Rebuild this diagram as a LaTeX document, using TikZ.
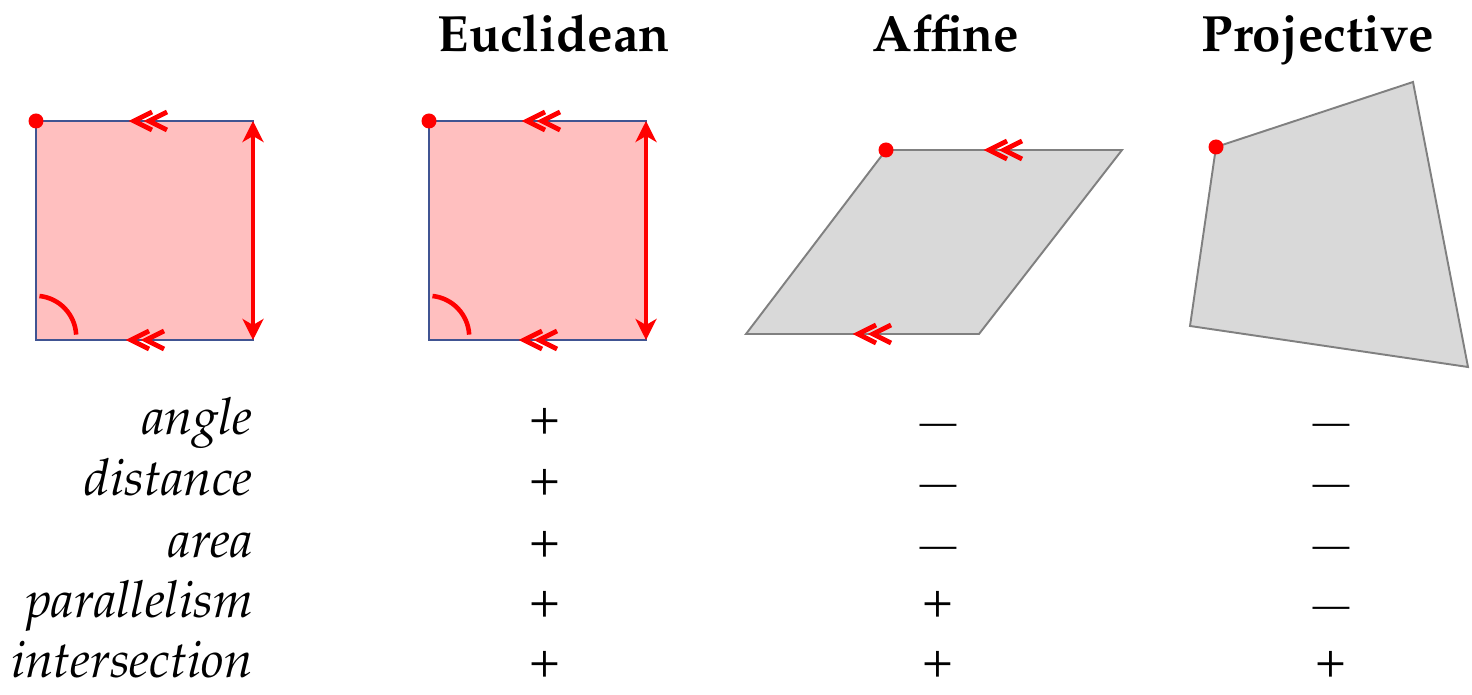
\documentclass[tikz,border=0pt]{standalone}
\usepackage[T1]{fontenc}
\usepackage{mathpazo}
\usetikzlibrary{arrows.meta}
\definecolor{rose}{RGB}{255,191,191}
\definecolor{slate}{RGB}{64,84,146}
\definecolor{signal}{RGB}{255,0,0}
\definecolor{stone}{RGB}{217,217,217}
\definecolor{ash}{RGB}{128,128,128}
\tikzset{
  >={Stealth[length=4.2mm,width=4.2mm,inset=1.2mm]},
  rigid/.style={fill=rose,draw=slate,line width=1.1pt},
  loose/.style={fill=stone,draw=ash,line width=1.1pt},
  measure/.style={<->,draw=signal,fill=signal,line width=2.2pt},
  angmark/.style={draw=signal,line width=2.6pt},
  heading/.style={font=\fontsize{29}{35}\selectfont\bfseries,anchor=base,inner sep=0pt},
  prop/.style={font=\fontsize{29}{35}\selectfont\itshape,anchor=base east,inner sep=0pt},
  yes/.style={node contents={+},font=\fontsize{29}{35}\selectfont,anchor=base,inner sep=0pt},
  no/.style={node contents={\textemdash},font=\fontsize{21}{25}\selectfont,anchor=base,inner sep=0pt},
  % little marks
  pics/par/.style={code={
    \draw[signal,line width=2.7pt] (0.36,0.18) -- (0,0) -- (0.36,-0.18)
      (0.66,0.18) -- (0.3,0) -- (0.66,-0.18);
  }},
  pics/vertex/.style={code={
    \fill[signal] (0,0) circle (0.15);
  }},
}
\begin{document}
\begin{tikzpicture}
    \useasboundingbox (0,0) rectangle (29.44,13.88);
    % squares
    \foreach \dx in {0,7.86}{
      \begin{scope}[xshift=\dx cm]
        \draw[rigid] (0.72,7.08) rectangle (5.06,11.46);
        \draw[angmark] (0.79,7.96) arc[start angle=84,end angle=3,radius=0.82];
        \draw[measure] (5.06,7.08) -- (5.06,11.46);
        \pic at (2.68,11.46) {par};
        \pic at (2.62,7.08) {par};
        \pic at (0.72,11.46) {vertex};
      \end{scope}
    }
    % parallelogram
    \draw[loose] (14.92,7.20) -- (19.58,7.20) -- (22.44,10.88) -- (17.72,10.88) -- cycle;
    \pic at (19.78,10.88) {par};
    \pic at (17.16,7.20) {par};
    \pic at (17.72,10.88) {vertex};
    % quadrilateral
    \draw[loose] (23.80,7.36) -- (29.36,6.54) -- (28.26,12.24) -- (24.32,10.94) -- cycle;
    \pic at (24.32,10.94) {vertex};
    % headings
    \node[heading] (euc) at (11.08,12.84) {Euclidean};
    \node[heading] (aff) at (18.92,12.84) {Affine};
    \node[heading] (proj) at (26.36,12.84) {Projective};
    % table
    \node[prop] (angle) at (5.06,5.18) {angle};
    \node[prop] (distance) at (5.06,3.96) {distance};
    \node[prop] (area) at (5.06,2.74) {area};
    \node[prop] (parallelism) at (5.06,1.54) {parallelism};
    \node[prop] (intersection) at (5.06,0.34) {intersection};
    \coordinate (ce) at (10.90,0);
    \coordinate (ca) at (18.76,0);
    \coordinate (cp) at (26.62,0);
    \foreach \r/\e/\a/\p in {angle/yes/no/no,distance/yes/no/no,area/yes/no/no,
      parallelism/yes/yes/no,intersection/yes/yes/yes}{
      \node (\r-e) at (ce |- \r.base) [\e];
      \node (\r-a) at (ca |- \r.base) [\a];
      \node (\r-p) at (cp |- \r.base) [\p];
    }
  \end{tikzpicture}
\end{document}
